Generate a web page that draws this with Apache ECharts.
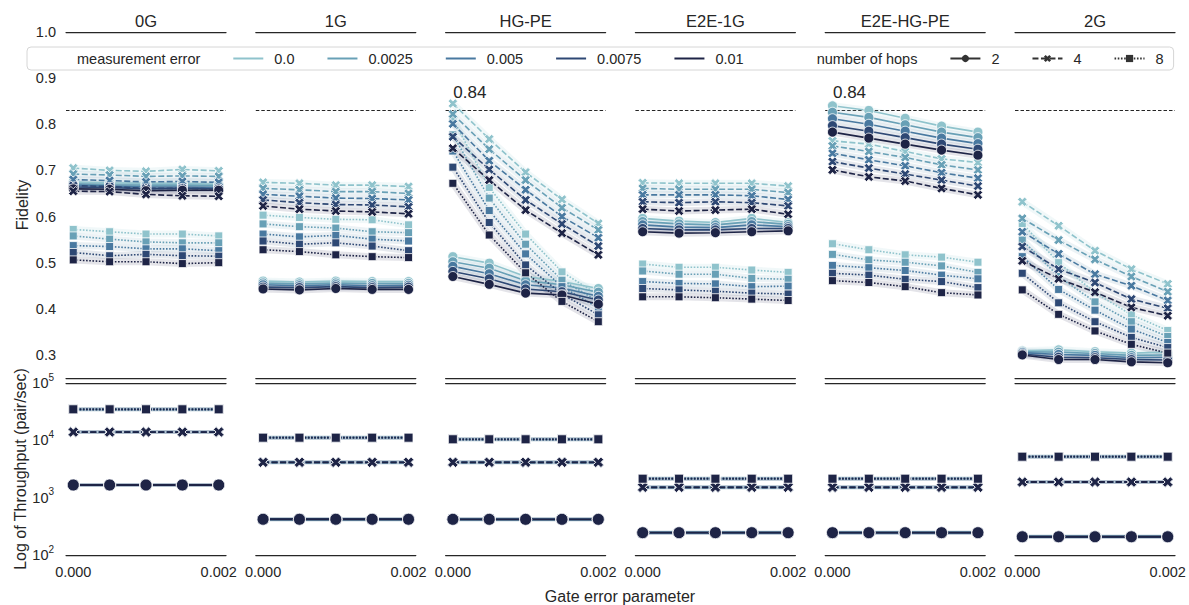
<!DOCTYPE html>
<html><head><meta charset="utf-8">
<script src="https://cdn.jsdelivr.net/npm/echarts@6/dist/echarts.min.js"></script>
<style>html,body{margin:0;padding:0;background:#fff}#c{width:1189px;height:605px}</style>
</head><body><div id="c"></div>
<script>
// ---------------- data ----------------
const panels = ['0G', '1G', 'HG-PE', 'E2E-1G', 'E2E-HG-PE', '2G'];
const gateErrors = [0, 0.0005, 0.001, 0.0015, 0.002];
const measErrors = ['0.0', '0.0025', '0.005', '0.0075', '0.01'];
const hops = ['2', '4', '8'];
const refFidelity = 0.83;
const peakValue = 0.84;
const peakLabel = '0.84';
const peakPanels = { 'HG-PE': 1, 'E2E-HG-PE': 0 }; // panel -> hop index carrying the annotation
const yTickLabels = [0.3, 0.4, 0.5, 0.6, 0.7, 0.8, 0.9, 1.0];

// fidelity: rows = measurement error (0.0 .. 0.01), columns = gate error
const fid_0G_h2 = [[0.675,0.673,0.672,0.672,0.670],[0.671,0.669,0.668,0.668,0.667],[0.668,0.666,0.664,0.664,0.663],[0.664,0.663,0.660,0.661,0.660],[0.660,0.659,0.656,0.657,0.657]];
const fid_0G_h4 = [[0.705,0.700,0.698,0.702,0.699],[0.692,0.690,0.687,0.688,0.687],[0.680,0.678,0.675,0.676,0.674],[0.667,0.665,0.661,0.661,0.660],[0.655,0.654,0.648,0.645,0.644]];
const fid_0G_h8 = [[0.572,0.567,0.562,0.562,0.558],[0.558,0.551,0.545,0.543,0.543],[0.537,0.535,0.530,0.530,0.526],[0.522,0.515,0.518,0.515,0.514],[0.506,0.502,0.502,0.498,0.500]];

const fid_1G_h2 = [[0.460,0.458,0.460,0.459,0.459],[0.456,0.454,0.456,0.455,0.455],[0.452,0.450,0.452,0.450,0.451],[0.447,0.446,0.448,0.446,0.447],[0.443,0.441,0.444,0.442,0.442]];
const fid_1G_h4 = [[0.674,0.672,0.668,0.668,0.665],[0.661,0.658,0.654,0.654,0.650],[0.648,0.644,0.640,0.639,0.636],[0.636,0.630,0.626,0.625,0.621],[0.623,0.616,0.612,0.610,0.606]];
const fid_1G_h8 = [[0.603,0.598,0.594,0.593,0.582],[0.584,0.578,0.575,0.567,0.565],[0.562,0.556,0.559,0.551,0.547],[0.547,0.540,0.543,0.536,0.526],[0.528,0.524,0.517,0.513,0.511]];

const fid_HGPE_h2 = [[0.513,0.499,0.470,0.459,0.444],[0.502,0.488,0.461,0.452,0.436],[0.492,0.476,0.452,0.445,0.427],[0.481,0.465,0.443,0.437,0.419],[0.470,0.453,0.434,0.430,0.410]];
const fid_HGPE_h4 = [[0.845,0.768,0.696,0.637,0.585],[0.822,0.746,0.679,0.619,0.571],[0.801,0.721,0.658,0.600,0.554],[0.773,0.702,0.636,0.584,0.536],[0.748,0.679,0.614,0.564,0.517]];
const fid_HGPE_h8 = [[0.812,0.663,0.562,0.480,0.430],[0.777,0.640,0.540,0.462,0.416],[0.742,0.613,0.519,0.448,0.402],[0.707,0.587,0.495,0.432,0.387],[0.672,0.560,0.478,0.416,0.372]];

const fid_E2E1G_h2 = [[0.596,0.590,0.587,0.596,0.587],[0.589,0.584,0.582,0.589,0.583],[0.582,0.577,0.576,0.582,0.578],[0.574,0.571,0.571,0.574,0.574],[0.567,0.564,0.565,0.567,0.569]];
const fid_E2E1G_h4 = [[0.673,0.672,0.672,0.672,0.666],[0.661,0.659,0.659,0.659,0.652],[0.647,0.647,0.647,0.645,0.637],[0.632,0.630,0.632,0.630,0.623],[0.616,0.612,0.614,0.616,0.605]];
const fid_E2E1G_h8 = [[0.497,0.490,0.490,0.484,0.479],[0.482,0.475,0.475,0.466,0.464],[0.459,0.455,0.454,0.448,0.449],[0.444,0.441,0.438,0.434,0.432],[0.426,0.426,0.424,0.421,0.418]];

const fid_E2EHGPE_h2 = [[0.840,0.830,0.813,0.796,0.783],[0.826,0.815,0.799,0.783,0.771],[0.812,0.800,0.785,0.770,0.758],[0.797,0.785,0.771,0.757,0.746],[0.783,0.770,0.757,0.744,0.733]];
const fid_E2EHGPE_h4 = [[0.764,0.757,0.741,0.725,0.717],[0.753,0.741,0.728,0.712,0.701],[0.737,0.723,0.710,0.695,0.683],[0.719,0.705,0.692,0.679,0.666],[0.701,0.686,0.677,0.661,0.647]];
const fid_E2EHGPE_h8 = [[0.541,0.528,0.517,0.512,0.501],[0.518,0.506,0.501,0.493,0.479],[0.494,0.489,0.483,0.473,0.465],[0.477,0.473,0.464,0.459,0.446],[0.461,0.457,0.448,0.435,0.430]];

const fid_2G_h2 = [[0.309,0.311,0.307,0.304,0.306],[0.307,0.306,0.303,0.299,0.300],[0.305,0.301,0.299,0.294,0.295],[0.302,0.295,0.294,0.290,0.289],[0.300,0.290,0.290,0.285,0.283]];
const fid_2G_h4 = [[0.632,0.580,0.526,0.486,0.454],[0.596,0.549,0.507,0.470,0.437],[0.567,0.519,0.475,0.450,0.418],[0.535,0.486,0.457,0.421,0.401],[0.504,0.465,0.436,0.403,0.385]];
const fid_2G_h8 = [[0.585,0.500,0.435,0.387,0.353],[0.549,0.470,0.415,0.372,0.340],[0.513,0.442,0.397,0.356,0.327],[0.477,0.413,0.372,0.338,0.316],[0.441,0.388,0.352,0.323,0.304]];

// throughput (pair/sec): rows = hops 2, 4, 8 ; columns = gate error (same for every measurement error)
const thr_0G = [[1663,1663,1663,1663,1663],[13960,13960,13960,13960,13960],[34770,34770,34770,34770,34770]];
const thr_1G = [[420,420,420,420,420],[4140,4140,4140,4140,4140],[11120,11120,11120,11120,11120]];
const thr_HGPE = [[419,419,419,419,419],[4140,4140,4140,4140,4140],[10430,10430,10430,10430,10430]];
const thr_E2E1G = [[245,245,245,245,245],[1517,1517,1517,1517,1517],[2140,2140,2140,2140,2140]];
const thr_E2EHGPE = [[245,245,245,245,245],[1517,1517,1517,1517,1517],[2140,2140,2140,2140,2140]];
const thr_2G = [[208,208,208,208,208],[1876,1876,1876,1876,1876],[5180,5180,5180,5180,5180]];

const fidByPanel = [[fid_0G_h2,fid_0G_h4,fid_0G_h8],[fid_1G_h2,fid_1G_h4,fid_1G_h8],[fid_HGPE_h2,fid_HGPE_h4,fid_HGPE_h8],
  [fid_E2E1G_h2,fid_E2E1G_h4,fid_E2E1G_h8],[fid_E2EHGPE_h2,fid_E2EHGPE_h4,fid_E2EHGPE_h8],[fid_2G_h2,fid_2G_h4,fid_2G_h8]];
const thrByPanel = [thr_0G, thr_1G, thr_HGPE, thr_E2E1G, thr_E2EHGPE, thr_2G];

// ---------------- style ----------------
const FONT = '"Liberation Sans", Arial, sans-serif';
const INK = '#262626';
const meColors = ['#8fc3cc', '#68a0b6', '#4979a0', '#2e4874', '#1e2446'];
const XPATH = 'path://M2.5,0L5,2.5L7.5,0L10,2.5L7.5,5L10,7.5L7.5,10L5,7.5L2.5,10L0,7.5L2.5,5L0,2.5Z';
const hopSymbols = ['circle', XPATH, 'rect'];
const hopSizes = [10, 9.5, 8];
const thrSizes = [12, 10.5, 9];
const hopDash = ['solid', [6, 2.5], [1.6, 1.6]];

const PANEL_W = 160, PITCH = 189.8, LEFT0 = 66;
const FID_TOP = 32, FID_H = 346, THR_TOP = 383, THR_H = 172;

const grids = [], xAxes = [], yAxes = [], series = [], graphics = [];
const xMin = -0.0001, xMax = 0.0021;

panels.forEach((p, i) => {
  const left = LEFT0 + i * PITCH;
  grids.push({ left: left, top: FID_TOP, width: PANEL_W, height: FID_H });
  grids.push({ left: left, top: THR_TOP, width: PANEL_W, height: THR_H });
  const spine = { show: true, lineStyle: { color: INK, width: 1.25 } };
  const baseX = { type: 'value', min: xMin, max: xMax, interval: 0.0001, axisTick: { show: false }, splitLine: { show: false }, axisLine: spine };
  xAxes.push(Object.assign({}, baseX, { gridIndex: 2 * i, position: 'bottom', axisLabel: { show: false } }));
  xAxes.push(Object.assign({}, baseX, { gridIndex: 2 * i, position: 'top', axisLabel: { show: false } }));
  xAxes.push(Object.assign({}, baseX, { gridIndex: 2 * i + 1, position: 'bottom',
    axisLabel: { show: true, color: INK, fontSize: 14.5, fontFamily: FONT, margin: 9,
      formatter: v => (Math.abs(v) < 1e-9 ? '0.000' : (Math.abs(v - 0.002) < 1e-9 ? '0.002' : '')) } }));
  xAxes.push(Object.assign({}, baseX, { gridIndex: 2 * i + 1, position: 'top', axisLabel: { show: false } }));

  yAxes.push({ type: 'value', gridIndex: 2 * i, min: 0.25, max: 1.0, interval: 0.05,
    axisLine: { show: false }, axisTick: { show: false }, splitLine: { show: false },
    axisLabel: { show: i === 0, color: INK, fontSize: 14.5, fontFamily: FONT, margin: 10,
      formatter: v => (yTickLabels.some(t => Math.abs(t - v) < 1e-6) ? v.toFixed(1) : '') },
    name: i === 0 ? 'Fidelity' : '', nameLocation: 'middle', nameGap: 36,
    nameTextStyle: { color: INK, fontSize: 16, fontFamily: FONT } });
  yAxes.push({ type: 'log', logBase: 10, gridIndex: 2 * i + 1, min: 100, max: 100000,
    axisLine: { show: false }, axisTick: { show: false }, splitLine: { show: false },
    axisLabel: { show: i === 0, margin: 12,
      formatter: v => '{b|10}{s|' + Math.round(Math.log10(v)) + '}',
      rich: { b: { fontSize: 14.5, color: INK, fontFamily: FONT, lineHeight: 22, verticalAlign: 'middle' },
              s: { fontSize: 10, color: INK, fontFamily: FONT, lineHeight: 10, verticalAlign: 'top' } } },
    name: i === 0 ? 'Log of Throughput (pair/sec)' : '', nameLocation: 'middle', nameGap: 38,
    nameTextStyle: { color: INK, fontSize: 16, fontFamily: FONT } });

  graphics.push({ type: 'text', x: left + PANEL_W / 2, y: 21, silent: true,
    style: { text: p, fill: INK, fontSize: 16.5, fontFamily: FONT, textAlign: 'center', textVerticalAlign: 'middle' } });

  // fidelity bands (CI look) and lines
  const fd = fidByPanel[i];
  measErrors.forEach((me, m) => {
    hops.forEach((h, k) => {
      const pts = gateErrors.map((g, j) => [g, fd[k][m][j]]);
      const band = { type: 'line', name: p + '|' + me + '|' + h + '|band', xAxisIndex: 4 * i, yAxisIndex: 2 * i,
        data: pts, symbol: 'none', silent: true, z: 1,
        lineStyle: { color: meColors[m], width: 7, opacity: 0.12 } };
      if (m === 0 && k === 0) {
        band.markLine = { silent: true, symbol: 'none', label: { show: false }, z: 1,
          lineStyle: { type: [3.5, 2], color: INK, width: 1 }, data: [{ yAxis: refFidelity }] };
      }
      series.push(band);
      const line = { type: 'line', name: p + '|' + me + '|' + h, xAxisIndex: 4 * i, yAxisIndex: 2 * i,
        data: pts, symbol: hopSymbols[k], symbolSize: hopSizes[k], z: 2, silent: true,
        lineStyle: { color: meColors[m], width: 1.6, type: hopDash[k] },
        itemStyle: { color: meColors[m], borderColor: '#fff', borderWidth: 0.8 } };
      if (peakPanels[p] === k && m === 0) {
        line.markPoint = { silent: true, symbol: 'rect', symbolSize: 1,
          itemStyle: { color: 'rgba(0,0,0,0)' },
          label: { show: true, formatter: peakLabel, position: [1, -13], align: 'left', verticalAlign: 'middle',
            color: INK, fontSize: 17, fontFamily: FONT },
          data: [{ coord: [gateErrors[0], peakValue] }] };
      }
      series.push(line);
    });
  });

  // throughput
  const td = thrByPanel[i];
  measErrors.forEach((me, m) => {
    hops.forEach((h, k) => {
      const pts = gateErrors.map((g, j) => [g, td[k][j]]);
      series.push({ type: 'line', name: p + '|thr|' + me + '|' + h + '|band', xAxisIndex: 4 * i + 2, yAxisIndex: 2 * i + 1,
        data: pts, symbol: 'none', silent: true, z: 1, lineStyle: { color: meColors[m], width: 4, opacity: 0.1 } });
      series.push({ type: 'line', name: p + '|thr|' + me + '|' + h, xAxisIndex: 4 * i + 2, yAxisIndex: 2 * i + 1,
        data: pts, symbol: hopSymbols[k], symbolSize: thrSizes[k], z: 2, silent: true,
        lineStyle: { color: meColors[m], width: 1.8, type: hopDash[k] },
        itemStyle: { color: meColors[m], borderColor: '#fff', borderWidth: 0.8 } });
    });
  });
});

// legend helper series (no data)
const legendSeries = [];
legendSeries.push({ type: 'line', name: 'measurement error', data: [], symbol: 'none', lineStyle: { color: '#fff', width: 0 } });
measErrors.forEach((me, m) => legendSeries.push({ type: 'line', name: me, data: [], symbol: 'none',
  lineStyle: { color: meColors[m], width: 1.8 }, itemStyle: { color: meColors[m] } }));
legendSeries.push({ type: 'line', name: 'number of hops', data: [], symbol: 'none', lineStyle: { color: '#fff', width: 0 } });
hops.forEach((h, k) => legendSeries.push({ type: 'line', name: h, data: [], symbol: hopSymbols[k],
  lineStyle: { color: '#333', width: 1.6, type: hopDash[k] }, itemStyle: { color: '#333' } }));

const hidden = { itemStyle: { opacity: 0 }, lineStyle: { opacity: 0 } };
const legendData = [Object.assign({ name: 'measurement error' }, hidden)]
  .concat(measErrors.map(me => ({ name: me, itemStyle: { opacity: 0 } })))
  .concat([Object.assign({ name: 'number of hops' }, hidden)])
  .concat(hops.map(h => ({ name: h })));

graphics.push({ type: 'text', x: 620, y: 596, silent: true,
  style: { text: 'Gate error parameter', fill: INK, fontSize: 16, fontFamily: FONT, textAlign: 'center', textVerticalAlign: 'middle' } });

const chart = echarts.init(document.getElementById('c'), null, { renderer: 'svg' });
chart.setOption({
  animation: false,
  backgroundColor: '#fff',
  textStyle: { fontFamily: FONT },
  grid: grids,
  xAxis: xAxes,
  yAxis: yAxes,
  legend: {
    data: legendData, left: 27, top: 47, orient: 'horizontal', z: 20,
    padding: [4, 10, 4, 9], itemGap: 32, itemWidth: 30, itemHeight: 9,
    backgroundColor: 'rgba(255,255,255,0.85)', borderColor: '#d6d6d6', borderWidth: 1, borderRadius: 4,
    selectedMode: false,
    textStyle: { color: INK, fontSize: 14.5, fontFamily: FONT, padding: [0, 0, 0, 6] }
  },
  graphic: graphics,
  series: series.concat(legendSeries.map(s => Object.assign(s, { xAxisIndex: 0, yAxisIndex: 0 })))
});
</script></body></html>
